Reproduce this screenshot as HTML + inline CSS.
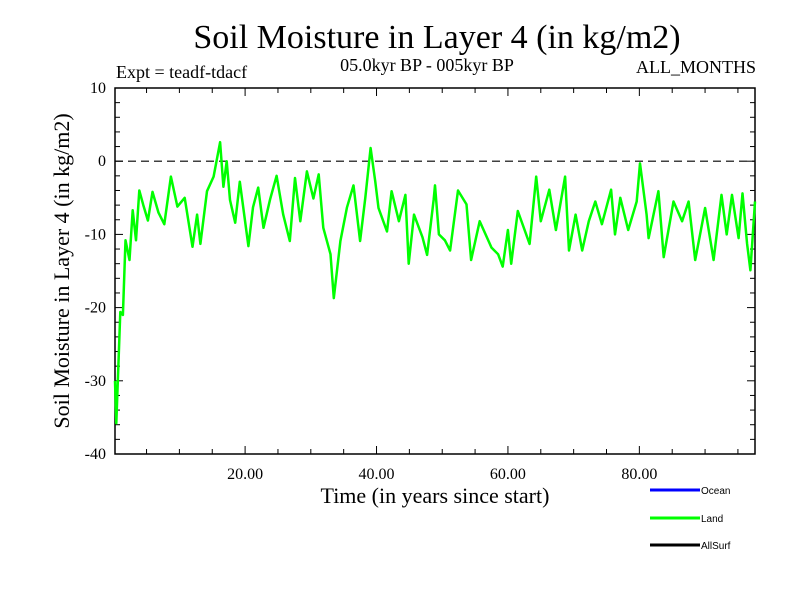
<!DOCTYPE html>
<html><head><meta charset="utf-8"><style>
body{margin:0;background:#fff;width:800px;height:600px;overflow:hidden}
text{font-family:"Liberation Serif",serif}
</style></head><body>
<svg id="chart" width="800" height="600" xmlns="http://www.w3.org/2000/svg">
<text x="437" y="48" font-size="34" text-anchor="middle">Soil Moisture in Layer 4 (in kg/m2)</text>
<text x="116" y="78" font-size="18">Expt = teadf-tdacf</text>
<text x="427" y="71" font-size="18" text-anchor="middle">05.0kyr BP - 005kyr BP</text>
<text x="756" y="73" font-size="18" text-anchor="end">ALL_MONTHS</text>
<text x="435" y="503" font-size="22" text-anchor="middle">Time (in years since start)</text>
<text transform="translate(69,271) rotate(-90)" font-size="22" text-anchor="middle">Soil Moisture in Layer 4 (in kg/m2)</text>
<g id="axes"></g>
<g id="series"></g>
<g>
<line x1="650" y1="490" x2="700" y2="490" stroke="#0000ff" stroke-width="3"/>
<text x="701" y="494" font-size="10" style="font-family:'Liberation Sans',sans-serif">Ocean</text>
<line x1="650" y1="518" x2="700" y2="518" stroke="#00ff00" stroke-width="3"/>
<text x="701" y="522" font-size="10" style="font-family:'Liberation Sans',sans-serif">Land</text>
<line x1="650" y1="545" x2="700" y2="545" stroke="#000" stroke-width="3"/>
<text x="701" y="549" font-size="10" style="font-family:'Liberation Sans',sans-serif">AllSurf</text>
</g>
</svg>
<script>
const years=[0.2,0.4,1.0,1.4,1.8,2.4,2.9,3.4,3.9,4.5,5.2,5.9,6.8,7.7,8.7,9.7,10.8,12,12.7,13.2,14.2,15.2,16.2,16.7,17.2,17.7,18.5,19.2,20.5,21.2,22,22.8,23.8,24.8,25.8,26.8,27.6,28.4,29.4,30.4,31.2,31.9,33,33.5,34.5,35.5,36.5,37.5,38.3,39.1,39.8,40.3,41.6,42.3,43.4,44.4,44.9,45.7,47,47.7,48.7,48.9,49.5,50.4,51.2,52.4,53.7,54.4,55.7,57.5,58.5,59.2,60,60.5,61.5,63.3,64.3,65,66.3,67.3,68.7,69.3,70.3,71.3,72.3,73.3,74.3,75.7,76.3,77.1,78.3,79.6,80.1,81.1,81.4,82.9,83.7,85.2,86.5,87.5,88.5,90,91.3,92.5,93.3,94.1,95.1,95.7,96.4,96.9,97.6];
const values=[-30,-35.8,-20.6,-21,-10.8,-13.5,-6.7,-10.8,-4,-6,-8.1,-4.2,-7,-8.6,-2.1,-6.2,-5,-11.7,-7.3,-11.3,-4.1,-2.1,2.6,-3.5,0,-5.3,-8.4,-2.8,-11.6,-6.3,-3.6,-9.1,-5.2,-2,-7.3,-10.9,-2.3,-8.2,-1.4,-5.1,-1.8,-9.1,-12.7,-18.7,-10.9,-6.3,-3.3,-10.9,-5,1.8,-2.7,-6.4,-9.6,-4.1,-8.2,-4.6,-14,-7.3,-10.4,-12.8,-5.2,-3.3,-10,-10.8,-12.2,-4,-5.9,-13.5,-8.2,-11.8,-12.7,-14.4,-9.4,-14,-6.8,-11.3,-2.1,-8.2,-3.9,-9.4,-2.1,-12.2,-7.3,-12.2,-8.2,-5.5,-8.6,-3.9,-10,-5,-9.4,-5.5,-0.3,-7.3,-10.5,-4.1,-13.1,-5.5,-8.2,-5.5,-13.5,-6.4,-13.5,-4.6,-10,-4.6,-10.5,-4.4,-11.3,-14.9,-5.5];
const yTicks=[10,0,-10,-20,-30,-40];
const xTicks=[20,40,60,80];
const X0=115,X1=755,Y0=88,Y1=454,XMIN=0.2,XMAX=97.6,YMIN=-40,YMAX=10;
const sx=v=>X0+(v-XMIN)/(XMAX-XMIN)*(X1-X0);
const sy=v=>Y1-(v-YMIN)/(YMAX-YMIN)*(Y1-Y0);
const NS="http://www.w3.org/2000/svg";
const ax=document.getElementById('axes');
function mk(t,a,p){const e=document.createElementNS(NS,t);for(const k in a)e.setAttribute(k,a[k]);(p||ax).appendChild(e);return e;}
const frame=mk('rect',{x:X0,y:Y0,width:X1-X0,height:Y1-Y0,fill:'none',stroke:'#000','stroke-width':1.5});


const zl=mk('line',{x1:X0,x2:X1,y1:sy(0),y2:sy(0),stroke:'#000','stroke-width':1.2,'stroke-dasharray':'8,5'});


for(let v=YMIN;v<=YMAX;v+=2){const L=(v%10===0)?8:5;const y=sy(v);
 mk('line',{x1:X0,x2:X0+L,y1:y,y2:y,stroke:'#000','stroke-width':1});
 mk('line',{x1:X1,x2:X1-L,y1:y,y2:y,stroke:'#000','stroke-width':1});}
for(let v=5;v<XMAX;v+=5){const L=(v%20===0)?8:5;const x=sx(v);
 mk('line',{x1:x,x2:x,y1:Y1,y2:Y1-L,stroke:'#000','stroke-width':1});
 mk('line',{x1:x,x2:x,y1:Y0,y2:Y0+L,stroke:'#000','stroke-width':1});}
yTicks.forEach(v=>{const t=mk('text',{x:106,y:sy(v)+5,'font-size':16,'text-anchor':'end'});t.textContent=v;
 
 });
xTicks.forEach(v=>{const t=mk('text',{x:sx(v),y:479,'font-size':16,'text-anchor':'middle'});t.textContent=v.toFixed(2);
 
 });
const pts=years.map((y,i)=>sx(y).toFixed(1)+','+sy(values[i]).toFixed(1)).join(' ');
const pl=mk('polyline',{points:pts,fill:'none',stroke:'#00ff00','stroke-width':2.5,'stroke-linejoin':'round'},document.getElementById('series'));


</script>
</body></html>
